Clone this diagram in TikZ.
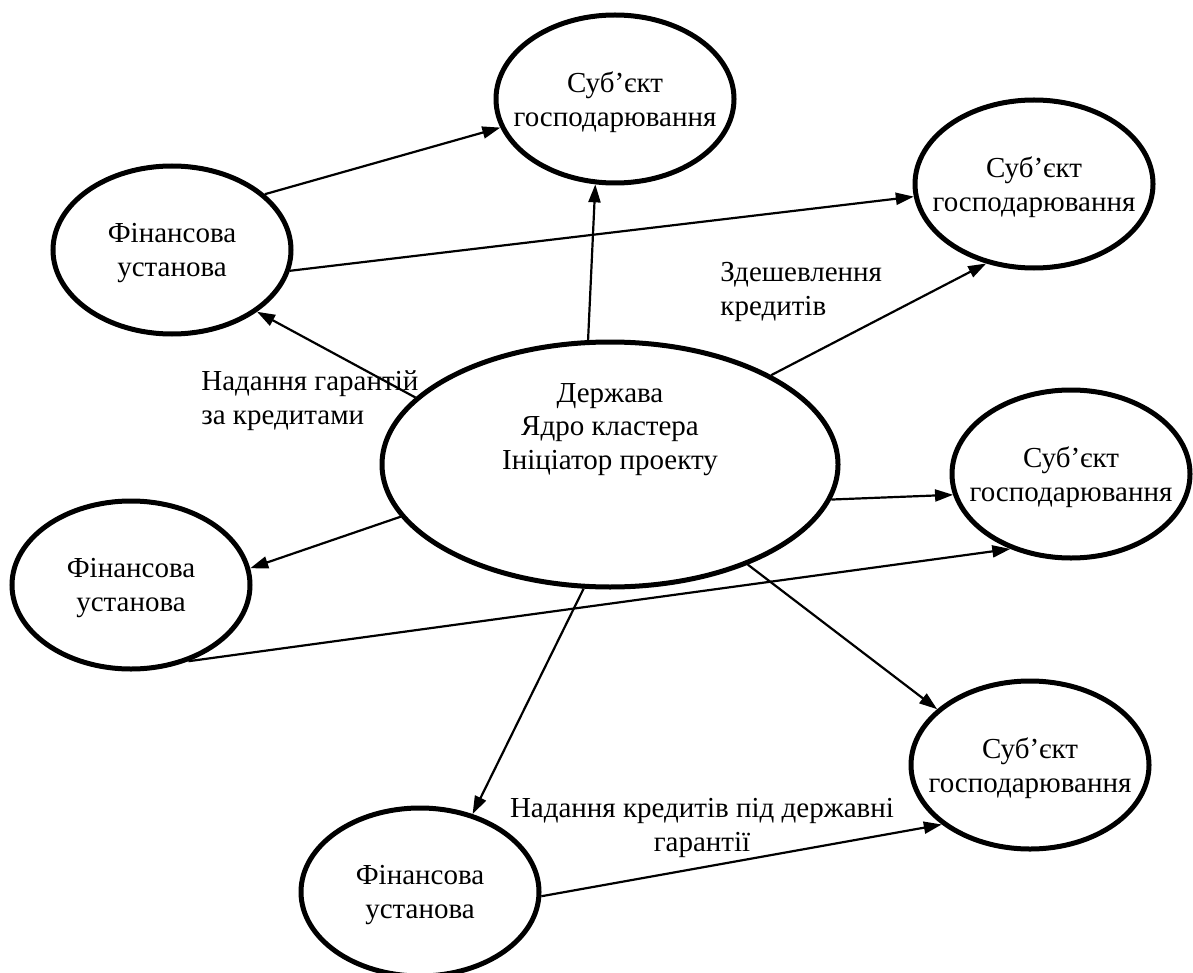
\documentclass[tikz,border=0pt]{standalone}
\usepackage{fontspec}
\setmainfont{Liberation Serif}
\usetikzlibrary{shapes.geometric,arrows.meta}
\begin{document}
\begin{tikzpicture}[x=0.5pt,y=-0.5pt,
  txt/.style={inner sep=0pt, font=\fontsize{14.5}{16.75}\selectfont},
  ell/.style={draw, ellipse, line width=2.5pt, minimum width=119pt, minimum height=84pt, inner sep=0pt},
  bigell/.style={draw, ellipse, line width=2.5pt, minimum width=228pt, minimum height=122.5pt, inner sep=0pt},
  arr/.style={line width=1.1pt, -{Triangle[length=9pt,width=6pt]}}]
\useasboundingbox (0,0) rectangle (1193,973);
% ellipses
\node[ell, label={[txt, align=center, yshift=-1.5pt, name=t1t]center:Суб’єкт\\господарювання}] (t1) at (615,99) {};
\node[ell, label={[txt, align=center, yshift=-1.5pt, name=t2t]center:Суб’єкт\\господарювання}] (t2) at (1034,184) {};
\node[ell, label={[txt, align=center, yshift=-1.5pt, name=f1t]center:Фінансова\\установа}] (f1) at (172,250) {};
\node[bigell] (c) at (610,464.5) {};
\node[txt, align=center, anchor=base] (ct) at (610,469) {Держава\\Ядро кластера\\Ініціатор проекту};
\node[ell, label={[txt, align=center, yshift=-1.5pt, name=t3t]center:Суб’єкт\\господарювання}] (t3) at (1071,474) {};
\node[ell, label={[txt, align=center, yshift=-1.5pt, name=f2t]center:Фінансова\\установа}] (f2) at (131,585) {};
\node[ell, label={[txt, align=center, yshift=-1.5pt, name=t4t]center:Суб’єкт\\господарювання}] (t4) at (1030,765) {};
\node[ell, label={[txt, align=center, yshift=-1.5pt, name=f3t]center:Фінансова\\установа}] (f3) at (420,892) {};
% connectors
\draw[arr] (f1.31) -- (t1.194);
\draw[arr] (f1.-10) -- (t2.186);
\draw[arr] (c.161) -- (f1.-36);
\draw[arr] (c.100) -- (t1.257);
\draw[arr] (c.29) -- (t2.239);
\draw[arr] (c.-9) -- (t3.190);
\draw[arr] (c.194) -- (f2.8);
\draw[arr] (f2.-53) -- (t3.231);
\draw[arr] (c.-36) -- (t4.149);
\draw[arr] (c.-102) -- (f3.56);
\draw[arr] (f3.-2) -- (t4.214);
% labels
\node[txt, align=left, anchor=base west] (l1) at (720,315) {Здешевлення\\кредитів};
\node[txt, align=left, anchor=base west] (l2) at (201,424) {Надання гарантій\\за кредитами};
\node[txt, align=center, anchor=base] (l3) at (702,851) {Надання кредитів під державні\\гарантії};
\end{tikzpicture}
\end{document}
